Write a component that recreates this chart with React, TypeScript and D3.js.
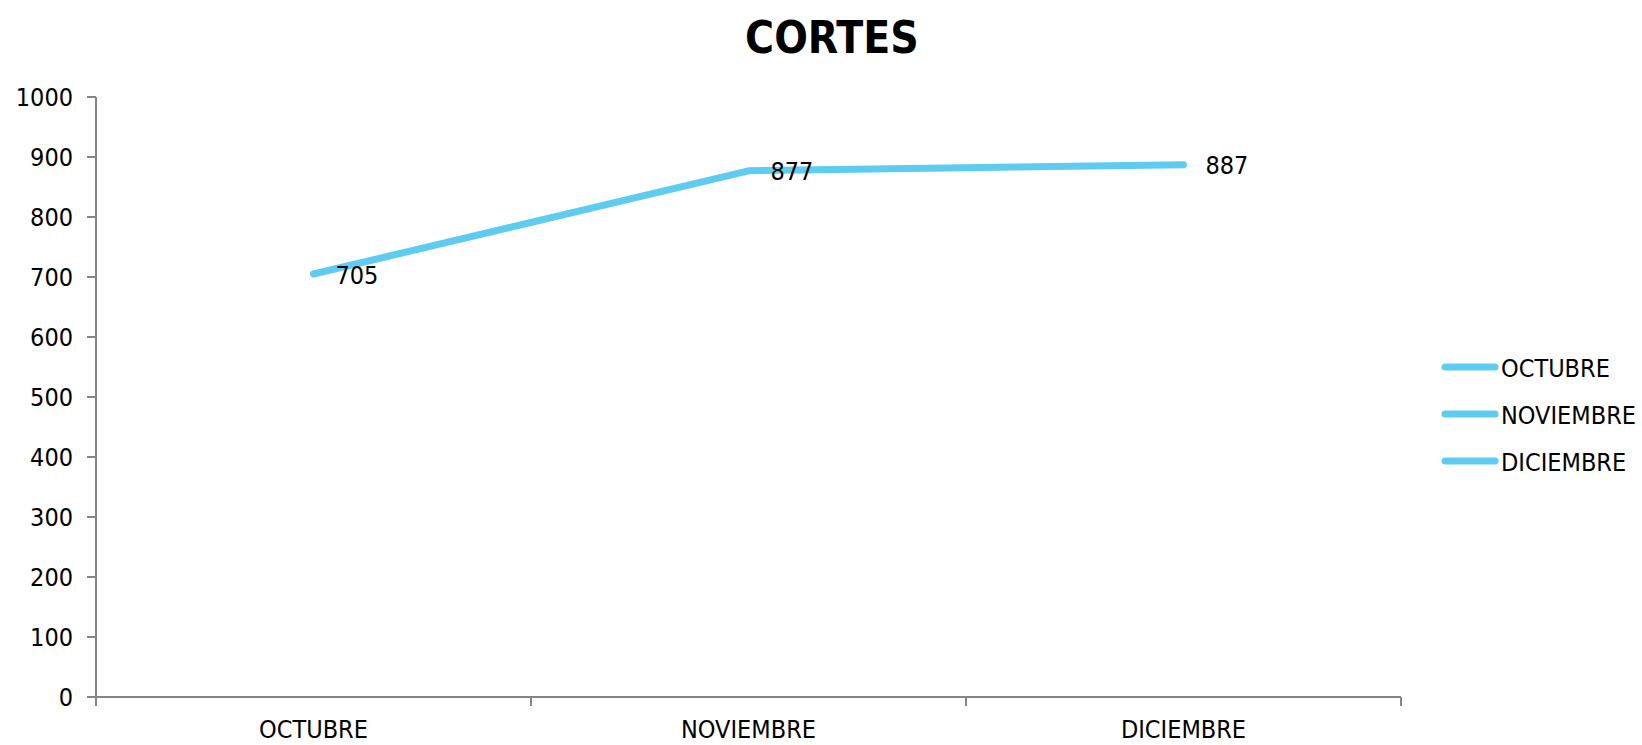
import React from "react";
import * as d3 from "d3";

const categories = ["OCTUBRE", "NOVIEMBRE", "DICIEMBRE"];
const values = [705, 877, 887];
const yTicks = [0, 100, 200, 300, 400, 500, 600, 700, 800, 900, 1000];
const legendItems = ["OCTUBRE", "NOVIEMBRE", "DICIEMBRE"];
const title = "CORTES";

const W = 1642;
const H = 745;
const FONT = "'DejaVu Sans Condensed', 'DejaVu Sans', sans-serif";
const LINE = "#5ECCF0";
const AXIS = "#868686";

export default function App() {
  React.useEffect(() => {
    document.body.style.margin = "0";
  }, []);
  const left = 96, right = 1401, top = 97, bottom = 697;
  const x = d3.scaleBand<string>().domain(categories).range([left, right]).padding(0);
  const y = d3.scaleLinear().domain([0, 1000]).range([bottom, top]);
  const cx = (c: string) => (x(c) as number) + x.bandwidth() / 2;
  const line = d3
    .line<number>()
    .x((_, i) => cx(categories[i]))
    .y((d) => y(d));
  const catTicks = [left, ...categories.map((c) => (x(c) as number) + x.bandwidth())];
  const fs = 25;
  return (
    <svg width={W} height={H} style={{ display: "block", background: "#fff" }} fontFamily={FONT}>
      <text x={832} y={53} textAnchor="middle" fontSize={44} fontWeight="bold" fill="#000">
        {title}
      </text>
      {/* y axis */}
      <line x1={left} x2={left} y1={top} y2={bottom + 9} stroke={AXIS} strokeWidth={2} />
      {yTicks.map((t) => (
        <g key={t}>
          <line x1={left - 9} x2={left} y1={y(t)} y2={y(t)} stroke={AXIS} strokeWidth={2} />
          <text x={73} y={y(t)} dy="0.36em" textAnchor="end" fontSize={fs} fill="#000">
            {t}
          </text>
        </g>
      ))}
      {/* x axis */}
      <line x1={left - 9} x2={right} y1={bottom} y2={bottom} stroke={AXIS} strokeWidth={2} />
      {catTicks.map((px, i) => (
        <line key={i} x1={px} x2={px} y1={bottom} y2={bottom + 9} stroke={AXIS} strokeWidth={2} />
      ))}
      {categories.map((c) => (
        <text key={c} x={cx(c)} y={738} textAnchor="middle" fontSize={fs} fill="#000">
          {c}
        </text>
      ))}
      {/* series */}
      <path d={line(values) || ""} fill="none" stroke={LINE} strokeWidth={7} strokeLinecap="round" strokeLinejoin="round" />
      {values.map((v, i) => (
        <text key={i} x={cx(categories[i]) + 22} y={y(v)} dy="0.38em" fontSize={fs} fill="#000">
          {v}
        </text>
      ))}
      {/* legend */}
      {legendItems.map((l, i) => (
        <g key={l}>
          <line x1={1445} x2={1495} y1={367 + i * 47} y2={367 + i * 47} stroke={LINE} strokeWidth={7} strokeLinecap="round" />
          <text x={1501} y={367 + i * 47} dy="0.38em" fontSize={fs} fill="#000">
            {l}
          </text>
        </g>
      ))}
    </svg>
  );
}
